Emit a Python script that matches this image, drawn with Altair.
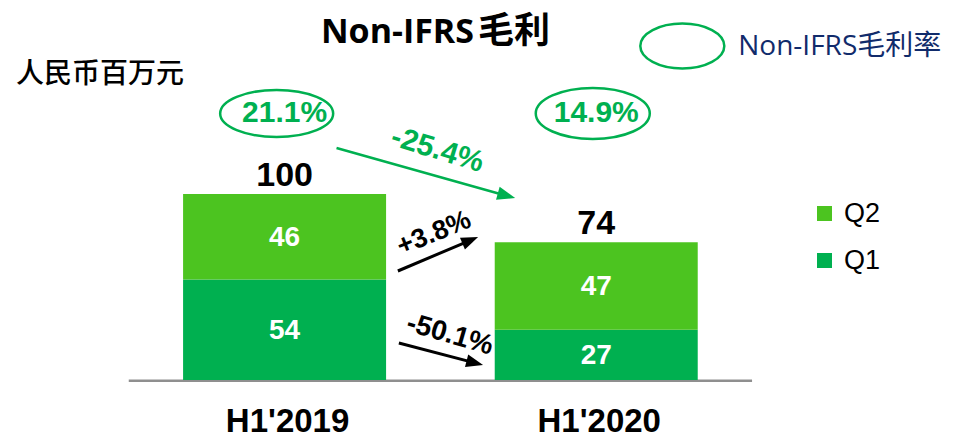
import altair as alt
import pandas as pd

# ---------------- data ----------------
periods = ["H1'2019", "H1'2020"]
q1_values = [54, 27]
q2_values = [46, 47]
totals = [100, 74]
margin_labels = ["21.1%", "14.9%"]
change_total = "-25.4%"
change_q2 = "+3.8%"
change_q1 = "-50.1%"
quarters = ["Q2", "Q1"]
title_en = "Non-IFRS"
title_cn = "毛利"
unit_label = "人民币百万元"
legend_label = "Non-IFRS毛利率"

# ---------------- styles ----------------
Q_COLORS = ["#4cc420", "#00b050"]
GREEN = "#00b050"
NAVY = "#112b6b"
W, H = 940, 429
X_DOM = [-0.87143, 2.11270]
Y_DOM = [-30.645, 200.0]
xs = alt.Scale(domain=X_DOM, nice=False, zero=False)
ys = alt.Scale(domain=Y_DOM, nice=False, zero=False)


def XD(v):
    return alt.XDatum(v, type="quantitative", scale=xs, axis=None)


def YD(v):
    return alt.YDatum(v, type="quantitative", scale=ys, axis=None)


rows = []
for i, p in enumerate(periods):
    rows.append(dict(period=p, idx=i, quarter="Q1", qorder=0, value=q1_values[i]))
    rows.append(dict(period=p, idx=i, quarter="Q2", qorder=1, value=q2_values[i]))
df = pd.DataFrame(rows)
tot_df = pd.DataFrame(dict(period=periods, idx=list(range(len(periods))),
                           total=totals, margin=margin_labels))

stacked = alt.Chart(df).transform_stack(
    stack="value", groupby=["period"], sort=[alt.SortField("qorder")], as_=["v0", "v1"]
)

bars = stacked.mark_bar(width=203).encode(
    x=alt.X("idx:Q", scale=xs, axis=None),
    y=alt.Y("v0:Q", scale=ys, axis=None),
    y2="v1:Q",
    color=alt.Color(
        "quarter:N",
        scale=alt.Scale(domain=quarters, range=Q_COLORS),
        legend=alt.Legend(
            orient="none", legendX=803, legendY=192, title=None,
            symbolType="square", symbolSize=225, symbolStrokeWidth=0,
            labelFontSize=27, labelFont="Liberation Sans", labelColor="black",
            rowPadding=19, labelOffset=6, padding=0,
        ),
    ),
)

inner = stacked.transform_calculate(mid="(datum.v0 + datum.v1) / 2").mark_text(
    font="Liberation Sans", fontSize=28, fontWeight="bold", color="white",
    baseline="middle", dy=1,
).encode(
    x=alt.X("idx:Q", scale=xs, axis=None),
    y=alt.Y("mid:Q", scale=ys, axis=None),
    text="value:Q",
)

base_tot = alt.Chart(tot_df)
total_text = base_tot.mark_text(
    font="Liberation Sans", fontSize=34, fontWeight="bold", color="black",
    baseline="alphabetic", dy=-8,
).encode(
    x=alt.X("idx:Q", scale=xs, axis=None),
    y=alt.Y("total:Q", scale=ys, axis=None),
    text="total:Q",
)

cat_text = base_tot.mark_text(
    font="Liberation Sans", fontSize=33, fontWeight="bold", color="black",
    baseline="alphabetic", dx=3,
).encode(
    x=alt.X("idx:Q", scale=xs, axis=None),
    y=YD(-27.9),
    text="period:N",
)

margin_text = base_tot.mark_text(
    font="Liberation Sans", fontSize=30, fontWeight="bold", color=GREEN,
    baseline="alphabetic",
).encode(
    x=alt.X("idx:Q", scale=xs, axis=None),
    y=YD(138.5),
    text="margin:N",
)


def text_at(label, x, y, **style):
    return alt.Chart(pd.DataFrame({"t": [label]})).mark_text(**style).encode(
        x=XD(x), y=YD(y), text="t:N"
    )


def ellipse_path(ratio):
    k = 0.5523
    a = ratio
    return (f"M 1 0 C 1 {k*a:.4f} {k:.4f} {a:.4f} 0 {a:.4f} "
            f"C {-k:.4f} {a:.4f} -1 {k*a:.4f} -1 0 "
            f"C -1 {-k*a:.4f} {-k:.4f} {-a:.4f} 0 {-a:.4f} "
            f"C {k:.4f} {-a:.4f} 1 {-k*a:.4f} 1 0 Z")


def ellipse(x, y, w, h):
    return alt.Chart(pd.DataFrame({"e": [0]})).mark_point(
        shape=ellipse_path(h / w), size=w * w, filled=False,
        stroke=GREEN, strokeWidth=2.5, opacity=1,
    ).encode(x=XD(x), y=YD(y))


HEAD = "M 1 0 L -1 -0.75 L -1 0.75 Z"


def arrow(x1, y1, x2, y2, angle, color, width, head=17):
    line = alt.Chart(pd.DataFrame({"a": [0]})).mark_rule(
        color=color, strokeWidth=width
    ).encode(x=XD(x1), y=YD(y1), x2=alt.X2Datum(x2), y2=alt.Y2Datum(y2))
    tip = alt.Chart(pd.DataFrame({"a": [0]})).mark_point(
        shape=HEAD, size=head * head, filled=True, fill=color, stroke=None,
        opacity=1, angle=angle,
    ).encode(x=XD(x2), y=YD(y2))
    return line + tip


baseline = alt.Chart(pd.DataFrame({"b": [0]})).mark_rule(
    color="#8f8f8f", strokeWidth=2.5, yOffset=0.8
).encode(x=XD(-0.5), x2=alt.X2Datum(1.5), y=YD(0))

layers = [
    baseline,
    bars,
    inner,
    total_text,
    cat_text,
    margin_text,
    ellipse(-0.0254, 143.3, 113, 47),
    ellipse(0.9889, 143.3, 114, 51),
    ellipse(1.2762, 179.6, 84, 45),
    text_at(legend_label, 1.4556, 174.7, font="Open Sans, Noto Sans CJK SC",
            fontSize=28, color=NAVY, align="left", baseline="alphabetic"),
    text_at(title_en, 0.6079, 181.2, font="Open Sans", fontSize=34,
            fontWeight="bold", color="black", align="right", baseline="alphabetic"),
    text_at(title_cn, 0.6206, 181.2, font="Noto Sans CJK SC", fontSize=36,
            fontWeight="bold", color="black", align="left", baseline="alphabetic"),
    text_at(unit_label, -0.8619, 159.7, font="Noto Sans CJK SC", fontSize=28,
            fontWeight=500, color="black", align="left", baseline="alphabetic"),
    arrow(0.1667, 124.7, 0.7121, 99.09, 15.5, GREEN, 2.5, head=18),
    text_at(change_total, 0.4905, 123.7, font="Liberation Sans", fontSize=30,
            fontWeight="bold", color=GREEN, angle=17, baseline="middle"),
    arrow(0.3635, 58.60, 0.5959, 75.11, 337.2, "black", 3),
    text_at(change_q2, 0.4794, 78.8, font="Liberation Sans", fontSize=27,
            fontWeight="bold", color="black", angle=338, baseline="middle"),
    arrow(0.3667, 19.89, 0.6105, 9.19, 14.5, "black", 3),
    text_at(change_q1, 0.5302, 24.2, font="Liberation Sans", fontSize=28,
            fontWeight="bold", color="black", angle=16, baseline="middle"),
]

chart = alt.layer(*layers).properties(
    width=W, height=H, padding=0, autosize="none", background="white"
).configure_view(stroke=None)

chart.save("out.html", embed_options={"renderer": "svg", "actions": False})
